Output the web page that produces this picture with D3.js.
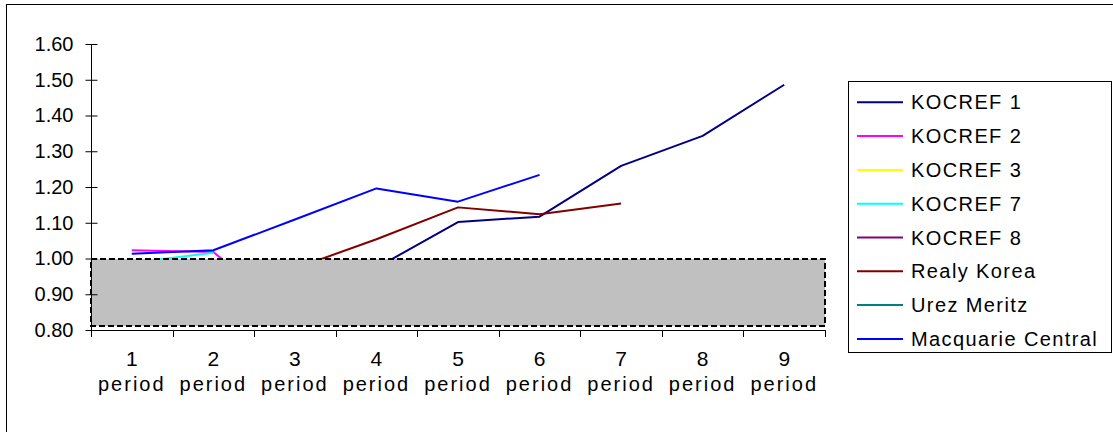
<!DOCTYPE html>
<html>
<head>
<meta charset="utf-8">
<script src="https://cdn.jsdelivr.net/npm/d3@7"></script>
<style>
  html, body { margin: 0; padding: 0; background: #fff; }
  svg { display: block; font-family: "Liberation Sans", Arial, sans-serif; }
</style>
</head>
<body>
<svg id="chart" width="1113" height="432"></svg>
<script>
// Periods on the x axis
const periods = ["1", "2", "3", "4", "5", "6", "7", "8", "9"];
const periodWord = "period";

// Y axis ticks
const yTicks = [0.80, 0.90, 1.00, 1.10, 1.20, 1.30, 1.40, 1.50, 1.60];

// Series names and values per period (null = no data)
const seriesNames = ["KOCREF 1", "KOCREF 2", "KOCREF 3", "KOCREF 7", "KOCREF 8",
                     "Realy Korea", "Urez Meritz", "Macquarie Central"];
const kocref1   = [0.93, 0.95, 0.96, 0.974, 1.102, 1.117, 1.259, 1.343, 1.486];
const kocref2   = [1.023, 1.018, 0.835, null, null, null, null, null, null];
const kocref3   = [0.96, 0.94, 0.92, 0.90, null, null, null, null, null];
const kocref7   = [0.988, 1.016, null, null, null, null, null, null, null];
const kocref8   = [0.97, 0.95, 0.93, 0.92, null, null, null, null, null];
const realyKorea = [0.93, 0.95, 0.972, 1.054, 1.143, 1.124, 1.154, null, null];
const urezMeritz = [0.98, 0.96, 0.95, 0.94, 0.93, null, null, null, null];
const macquarie  = [1.013, 1.023, 1.109, 1.196, 1.159, 1.234, null, null, null];
const seriesValues = [kocref1, kocref2, kocref3, kocref7, kocref8, realyKorea, urezMeritz, macquarie];
const seriesColors = ["#000080", "#FF00FF", "#FFFF00", "#00FFFF", "#800080",
                      "#800000", "#008080", "#0000FF"];

// Shaded band below par
const bandTop = 1.00;
const bandBottom = 0.811;

const svg = d3.select("#chart");

// Outer frame
svg.append("rect")
  .attr("x", 6.5).attr("y", 4.5)
  .attr("width", 1200).attr("height", 500)
  .attr("fill", "#fff").attr("stroke", "#000").attr("stroke-width", 1);

const plotLeft = 91, plotRight = 825, plotTop = 44, plotBottom = 330;

const x = d3.scaleBand().domain(periods).range([plotLeft, plotRight]).paddingInner(0).paddingOuter(0);
const y = d3.scaleLinear().domain([0.80, 1.60]).range([plotBottom, plotTop]);
const xc = p => x(p) + x.bandwidth() / 2;

// Lines
const line = d3.line()
  .defined(d => d.v != null)
  .x(d => xc(d.p))
  .y(d => y(d.v));

const lines = svg.append("g");
seriesValues.forEach((vals, i) => {
  lines.append("path")
    .datum(periods.map((p, j) => ({ p, v: vals[j] })))
    .attr("fill", "none")
    .attr("stroke", seriesColors[i])
    .attr("stroke-width", 2)
    .attr("stroke-linejoin", "round")
    .attr("d", line);
});

// Grey band with dashed border, drawn over the lines
const bandY0 = Math.round(y(bandTop));
const bandY1 = Math.round(y(bandBottom));
svg.append("rect")
  .attr("x", plotLeft)
  .attr("y", bandY0)
  .attr("width", plotRight - plotLeft)
  .attr("height", bandY1 - bandY0)
  .attr("fill", "#C0C0C0")
  .attr("stroke", "#000")
  .attr("stroke-width", 2)
  .attr("stroke-dasharray", "6,3");

// Y axis
const yAxis = d3.axisLeft(y)
  .tickValues(yTicks)
  .tickFormat(d3.format(".2f"))
  .tickSize(6)
  .tickPadding(12);
const gy = svg.append("g")
  .attr("transform", `translate(${plotLeft + 0.5},0)`)
  .call(yAxis);
gy.select(".domain").attr("d", `M0,${plotTop}V${plotBottom}`).attr("stroke", "#000");
gy.selectAll(".tick line").attr("x1", 6).attr("stroke", "#000");
gy.selectAll(".tick text")
  .attr("font-size", 20)
  .attr("font-family", "'Liberation Sans', Arial, sans-serif")
  .attr("fill", "#000");

// X axis: ticks on category boundaries
const boundaries = periods.map(p => x(p)).concat([x(periods[periods.length - 1]) + x.bandwidth()]);
const gx = svg.append("g");
gx.append("line")
  .attr("x1", plotLeft).attr("x2", plotRight + 1)
  .attr("y1", plotBottom + 0.5).attr("y2", plotBottom + 0.5)
  .attr("stroke", "#000");
gx.selectAll("line.tick")
  .data(boundaries)
  .join("line")
  .attr("class", "tick")
  .attr("x1", d => Math.round(d) + 0.5).attr("x2", d => Math.round(d) + 0.5)
  .attr("y1", plotBottom).attr("y2", plotBottom + 7)
  .attr("stroke", "#000");

const labels = gx.selectAll("text.cat")
  .data(periods)
  .join("text")
  .attr("class", "cat")
  .attr("text-anchor", "middle")
  .attr("font-size", 20)
  .attr("fill", "#000");
labels.append("tspan")
  .attr("x", d => xc(d)).attr("y", 366)
  .attr("font-size", 21)
  .text(d => d);
labels.append("tspan")
  .attr("x", d => xc(d)).attr("y", 391)
  .attr("letter-spacing", 2)
  .text(periodWord);

// Legend
const legend = svg.append("g");
legend.append("rect")
  .attr("x", 848.5).attr("y", 81.5)
  .attr("width", 263).attr("height", 271)
  .attr("fill", "#fff").attr("stroke", "#000");
const rowY = i => 102.3 + i * 33.8;
seriesNames.forEach((name, i) => {
  legend.append("line")
    .attr("x1", 857).attr("x2", 903)
    .attr("y1", rowY(i)).attr("y2", rowY(i))
    .attr("stroke", seriesColors[i]).attr("stroke-width", 2);
  legend.append("text")
    .attr("x", 911).attr("y", rowY(i) + 7)
    .attr("font-size", 20)
    .attr("letter-spacing", 1.4)
    .attr("fill", "#000")
    .text(name);
});
</script>
</body>
</html>
